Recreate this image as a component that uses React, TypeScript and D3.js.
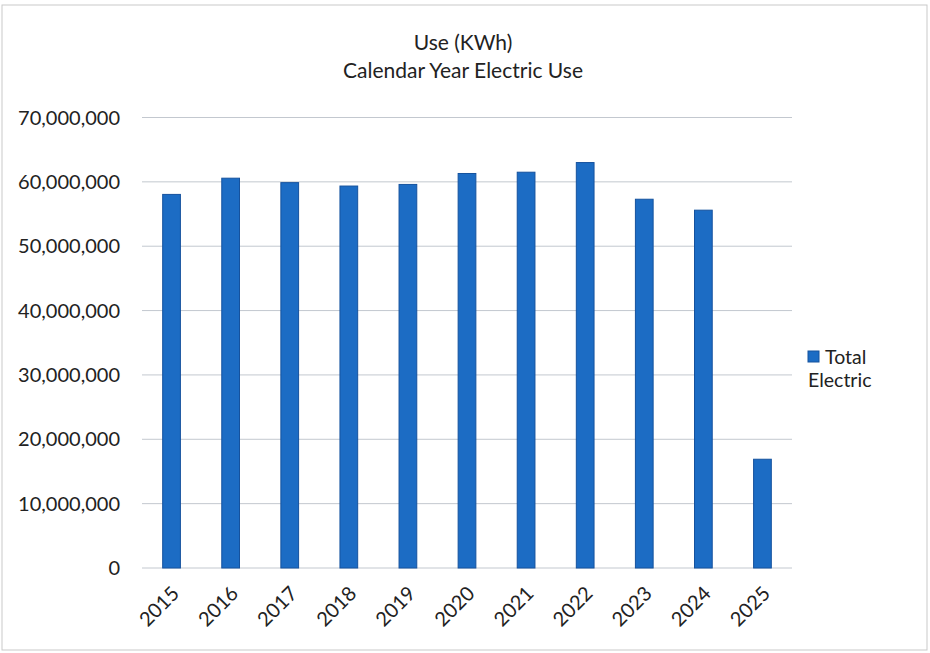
import React from "react";
import * as d3 from "d3";

const years = ["2015","2016","2017","2018","2019","2020","2021","2022","2023","2024","2025"];
const totalElectric = [58050000, 60570000, 59880000, 59350000, 59600000, 61300000, 61500000, 63000000, 57300000, 55600000, 16900000];
const yTicks = [0, 10000000, 20000000, 30000000, 40000000, 50000000, 60000000, 70000000];
const titleLines = ["Use (KWh)", "Calendar Year Electric Use"];
const legendLabel = ["Total", "Electric"];

const W = 930, H = 653;
const FONT = "Lato, 'Open Sans', sans-serif";

export default function App() {
  const x = d3.scaleBand<string>().domain(years).range([142, 792]).paddingInner(0.7).paddingOuter(0.35);
  const y = d3.scaleLinear().domain([0, 70000000]).range([568, 117.5]);
  const fmt = d3.format(",");
  return (
    <svg width={W} height={H} style={{ position: "absolute", left: 0, top: 0, background: "#fff" }} fontFamily={FONT}>
      <rect x={2} y={5} width={925} height={645} fill="#fff" stroke="#c9c9c9" strokeWidth={1} />
      {titleLines.map((t, i) => (
        <text key={t} x={463} y={50 + i * 28} textAnchor="middle" fontSize={21} fill="#222">{t}</text>
      ))}
      {yTicks.map((v) => (
        <g key={v}>
          <line x1={142} x2={792} y1={y(v)} y2={y(v)} stroke="#c3c8cf" strokeWidth={1} />
          <text x={120} y={y(v)} dy="0.35em" textAnchor="end" fontSize={20} fill="#222">{fmt(v)}</text>
        </g>
      ))}
      {years.map((yr, i) => (
        <rect key={yr} x={x(yr)} y={y(totalElectric[i])} width={x.bandwidth()} height={y(0) - y(totalElectric[i])}
          fill="#1c6cc4" stroke="#15529e" strokeWidth={1} />
      ))}
      {years.map((yr) => {
        const cx = (x(yr) as number) + x.bandwidth() / 2 - 1;
        return (
          <text key={yr} transform={`translate(${cx},${585}) rotate(-45)`} textAnchor="end" dy="0.7em" fontSize={20} fill="#222">{yr}</text>
        );
      })}
      <rect x={808} y={351} width={11} height={11} fill="#1c6cc4" stroke="#15529e" />
      <text x={825} y={364} fontSize={19.5} fill="#222">{legendLabel[0]}</text>
      <text x={808} y={387} fontSize={19.5} fill="#222">{legendLabel[1]}</text>
    </svg>
  );
}
